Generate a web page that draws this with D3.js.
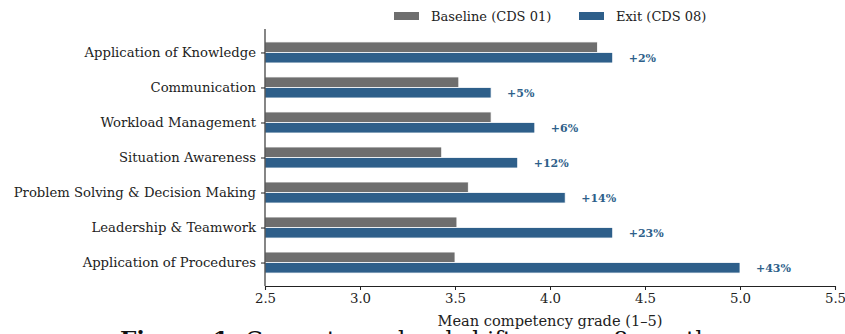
<!DOCTYPE html>
<html>
<head>
<meta charset="utf-8">
<script src="https://cdn.jsdelivr.net/npm/d3@7"></script>
<style>
  html, body { margin: 0; padding: 0; background: #fff; }
  svg { display: block; font-family: "DejaVu Serif", serif; }
</style>
</head>
<body>
<svg id="chart" width="845" height="334"></svg>
<script>
// Competency categories, top to bottom
const categories = [
  "Application of Knowledge",
  "Communication",
  "Workload Management",
  "Situation Awareness",
  "Problem Solving & Decision Making",
  "Leadership & Teamwork",
  "Application of Procedures"
];
// Mean grades at baseline (CDS 01) and exit (CDS 08)
const baseline = [4.25, 3.52, 3.69, 3.43, 3.57, 3.51, 3.50];
const exitGrades = [4.33, 3.69, 3.92, 3.83, 4.08, 4.33, 5.00];
const seriesNames = ["Baseline (CDS 01)", "Exit (CDS 08)"];
const xTicks = [2.5, 3.0, 3.5, 4.0, 4.5, 5.0, 5.5];

const colors = { base: "#6e6e6e", exit: "#2e5f8a", ink: "#222" };

const svg = d3.select("#chart");
const plot = { left: 265, right: 835, top: 29, bottom: 286 };

const x = d3.scaleLinear().domain([2.5, 5.5]).range([plot.left, plot.right]);
// Category index as a continuous position (0 at top)
const y = d3.scaleLinear().domain([-0.67, categories.length - 1 + 0.67]).range([plot.top, plot.bottom]);
const barH = 0.3;

const rows = categories.map((c, i) => ({
  name: c, i, base: baseline[i], exit: exitGrades[i],
  pct: Math.round((exitGrades[i] / baseline[i] - 1) * 100)
}));

// Bars
const g = svg.append("g");
g.selectAll("rect.base").data(rows).join("rect")
  .attr("class", "base")
  .attr("x", x(2.5))
  .attr("y", d => y(d.i - barH))
  .attr("width", d => x(d.base) - x(2.5))
  .attr("height", y(barH) - y(0))
  .attr("fill", colors.base)
  .attr("stroke", "#fff").attr("stroke-width", 0.8);

g.selectAll("rect.exit").data(rows).join("rect")
  .attr("class", "exit")
  .attr("x", x(2.5))
  .attr("y", d => y(d.i))
  .attr("width", d => x(d.exit) - x(2.5))
  .attr("height", y(barH) - y(0))
  .attr("fill", colors.exit)
  .attr("stroke", "#fff").attr("stroke-width", 0.8);

// Percentage change labels
g.selectAll("text.pct").data(rows).join("text")
  .attr("class", "pct")
  .attr("x", d => x(d.exit) + 16)
  .attr("y", d => y(d.i + barH / 2))
  .attr("dy", "0.35em")
  .attr("font-size", 11)
  .attr("font-weight", "bold")
  .attr("fill", colors.exit)
  .text(d => `+${d.pct}%`);

// Axes
const xAxis = d3.axisBottom(x).tickValues(xTicks).tickFormat(d3.format(".1f")).tickSize(4).tickPadding(4);
const gx = svg.append("g").attr("transform", `translate(0,${plot.bottom})`).call(xAxis);
gx.select(".domain").attr("stroke", colors.ink).attr("stroke-width", 1.1);
gx.selectAll(".tick line").attr("stroke", colors.ink);
gx.selectAll(".tick text").attr("font-size", 13.3).attr("font-family", "DejaVu Serif").attr("fill", colors.ink);

const yAxis = d3.axisLeft(y).tickValues(d3.range(categories.length)).tickFormat(i => categories[i]).tickSize(4).tickPadding(5);
const gy = svg.append("g").attr("transform", `translate(${plot.left},0)`).call(yAxis);
gy.select(".domain").attr("stroke", colors.ink).attr("stroke-width", 1.1)
  .attr("d", `M0,${plot.top}V${plot.bottom}`);
gy.selectAll(".tick line").attr("stroke", colors.ink);
gy.selectAll(".tick text").attr("font-size", 13.2).attr("font-family", "DejaVu Serif").attr("fill", colors.ink);

// Axis title
svg.append("text")
  .attr("x", (plot.left + plot.right) / 2).attr("y", 326)
  .attr("text-anchor", "middle")
  .attr("font-size", 14.6).attr("fill", colors.ink)
  .text("Mean competency grade (1–5)");

// Legend
const legend = svg.append("g");
const legendItems = [
  { name: seriesNames[0], color: colors.base, x: 394 },
  { name: seriesNames[1], color: colors.exit, x: 579 }
];
legendItems.forEach(it => {
  legend.append("rect").attr("x", it.x).attr("y", 12).attr("width", 25).attr("height", 8).attr("fill", it.color);
  legend.append("text").attr("x", it.x + 37).attr("y", 16).attr("dy", "0.35em")
    .attr("font-size", 13).attr("fill", colors.ink).text(it.name);
});

// Figure caption (runs off the bottom edge of the canvas)
const cap = svg.append("text").attr("x", 120).attr("y", 347).attr("font-size", 23).attr("fill", "#111");
cap.append("tspan").attr("font-weight", "bold").text("Figure 1: ");
cap.append("tspan").text("Competency-level shifts across 8 months");
</script>
</body>
</html>
